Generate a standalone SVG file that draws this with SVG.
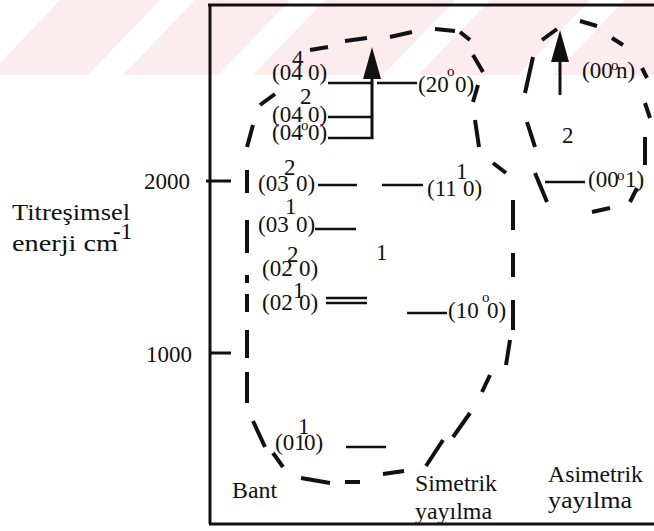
<svg xmlns="http://www.w3.org/2000/svg" width="654" height="531" viewBox="0 0 654 531">
<style>
text{font-family:"Liberation Serif","Times New Roman",serif;fill:#111}
.lb{font-size:23px}
.w{font-size:24px}
.deg{font-size:15px}
.dash{fill:none;stroke:#111;stroke-width:4;stroke-linecap:butt}
.lvl{fill:none;stroke:#111;stroke-width:2.6}
.ax{fill:none;stroke:#111;stroke-width:3}
</style>
<defs>
<marker id="ah" viewBox="0 0 32 18" refX="0" refY="9" markerWidth="32" markerHeight="18" markerUnits="userSpaceOnUse" orient="auto"><path d="M0,0 L32,9 L0,18 Z" fill="#111"/></marker>
</defs>
<g id="watermark">
<rect x="0" y="0" width="654" height="75" fill="#fdecee"/>
<polygon points="0,0 60,0 0,63" fill="#fff"/>
<polygon points="160,0 195,0 123,75 88,75" fill="#fff"/>
<polygon points="290,0 325,0 253,75 218,75" fill="#fff"/>
<polygon points="455,0 490,0 418,75 383,75" fill="#fff"/>
<polygon points="590,0 625,0 553,75 518,75" fill="#fff"/>
</g>
<g id="axis">
<path class="ax" d="M208,5 H654 M210,5 V524 M209,524 H654"/>
<path class="ax" d="M206,181 H231 M209,353 H231"/>
<text class="lb" x="190" y="189" text-anchor="end">2000</text>
<text class="lb" x="192" y="362" text-anchor="end">1000</text>
<text class="w" x="12" y="220" textLength="118" lengthAdjust="spacingAndGlyphs">Titreşimsel</text>
<text class="w" x="12" y="251" textLength="106" lengthAdjust="spacingAndGlyphs">enerji  cm</text>
<text class="lb" x="113" y="239">-1</text>
</g>
<g id="region1">
<path class="dash" d="M310,50 L328,47 M345,41 L367,38 M390,37 L412,32 M435,29 L455,31 M460,32 L470,40 M473,55 L483,72 M478,85 L473,102 M475,120 L479,147 M493,163 L506,173 M513,200 L513,230 M513,253 L513,277 M513,300 L513,330 M510,340 L506,365 M490,375 L482,392 M470,413 L453,437 M443,440 L426,466 M404,471 L383,474 M360,482 L345,482 M330,483 L301,478 M283,467 L273,453 M265,447 L253,421 M247,403 L247,372 M247,358 L247,330 M247,312 L247,294 M247,283 L247,275 M247,253 L247,220 M247,193 L247,170 M247,147 L253,125 M260,105 L275,94"/>
<text class="lb" x="376" y="260">1</text>
<text class="w" x="232" y="498" textLength="45" lengthAdjust="spacingAndGlyphs">Bant</text>
<text class="w" x="415" y="491" textLength="82" lengthAdjust="spacingAndGlyphs">Simetrik</text>
<text class="w" x="415" y="519" textLength="77" lengthAdjust="spacingAndGlyphs">yayılma</text>
</g>
<g id="region2">
<path class="dash" d="M542,40 L557,29 M580,21 L597,26 M612,38 L623,45 M642,68 L647,78 M645,103 L650,118 M645,137 L645,165 M637,188 L630,202 M610,208 L592,212 M547,202 L535,173 M535,147 L527,122 M525,93 L533,57"/>
<text class="lb" x="562" y="143">2</text>
<text class="w" x="548" y="482" textLength="95" lengthAdjust="spacingAndGlyphs">Asimetrik</text>
<text class="w" x="548" y="508" textLength="84" lengthAdjust="spacingAndGlyphs">yayılma</text>
</g>
<g id="n-040-4"><text class="lb" x="272" y="80">(04<tspan x="292" y="66">4</tspan><tspan x="308" y="80">0)</tspan></text></g>
<g id="n-040-2"><text class="lb" x="272" y="122">(04<tspan x="300" y="104">2</tspan><tspan x="308" y="122">0)</tspan></text></g>
<g id="n-040-0"><text class="lb" x="272" y="140">(04<tspan class="deg" x="301" y="130">o</tspan><tspan x="308" y="140">0)</tspan></text></g>
<g id="n-200"><text class="lb" x="418" y="92">(20<tspan class="deg" x="447" y="76">o</tspan><tspan x="455" y="92">0)</tspan></text></g>
<g id="n-030-2"><text class="lb" x="258" y="191">(03<tspan x="284" y="175">2</tspan><tspan x="296" y="191">0)</tspan></text></g>
<g id="n-110"><text class="lb" x="427" y="196">(11<tspan x="456" y="179">1</tspan><tspan x="463" y="196">0)</tspan></text></g>
<g id="n-030-1"><text class="lb" x="258" y="232">(03<tspan x="285" y="214">1</tspan><tspan x="296" y="232">0)</tspan></text></g>
<g id="n-020-2"><text class="lb" x="262" y="276">(02<tspan x="287" y="262">2</tspan><tspan x="299" y="276">0)</tspan></text></g>
<g id="n-020-1"><text class="lb" x="262" y="310">(02<tspan x="293" y="298">1</tspan><tspan x="299" y="310">0)</tspan></text></g>
<g id="n-100"><text class="lb" x="448" y="318">(10<tspan class="deg" x="482" y="302">o</tspan><tspan x="487" y="318">0)</tspan></text></g>
<g id="n-010"><text class="lb" x="275" y="450">(01<tspan x="298" y="434">1</tspan><tspan x="304" y="450">0)</tspan></text></g>
<g id="n-00n"><text class="lb" x="582" y="78">(00<tspan class="deg" x="611" y="70">o</tspan><tspan x="616" y="78">n)</tspan></text></g>
<g id="n-001"><text class="lb" x="588" y="187">(00<tspan class="deg" x="617" y="180">o</tspan><tspan x="625" y="187">1)</tspan></text></g>
<g id="connectors">
<path class="lvl" d="M328,83 H372 M328,117 H372 M328,138 H373.3 M377,83 H417"/>
<path class="ax" d="M372,139 V79" marker-end="url(#ah)"/>
<path class="lvl" d="M318,185 H357 M382,185 H423 M315,229 H356 M326,298 H367 M326,303 H367 M407,313 H447 M346,447 H386 M545,182 H585"/>
<path class="ax" d="M560,95 V62" marker-end="url(#ah)"/>
</g>
</svg>
